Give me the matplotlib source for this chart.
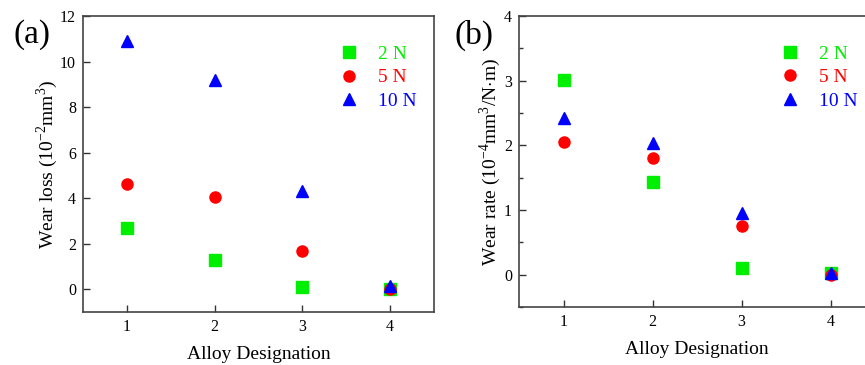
import numpy as np
import matplotlib.pyplot as plt
from matplotlib.ticker import MultipleLocator

plt.rcParams['font.family'] = ['Liberation Serif', 'DejaVu Serif']
plt.rcParams['mathtext.fontset'] = 'custom'
plt.rcParams['mathtext.rm'] = 'Liberation Serif'

alloys = [1, 2, 3, 4]
loads = ['2 N', '5 N', '10 N']
colors = ['#00ee00', '#ff0000', '#0000ff']
markers = ['s', 'o', '^']

# wear loss (10^-2 mm^3)
loss_2n = [2.7, 1.3, 0.09, 0.0]
loss_5n = [4.6, 4.07, 1.68, 0.0]
loss_10n = [10.9, 9.18, 4.3, 0.15]

# wear rate (10^-4 mm^3/N.m)
rate_2n = [3.01, 1.44, 0.10, 0.02]
rate_5n = [2.05, 1.80, 0.75, 0.0]
rate_10n = [2.43, 2.04, 0.96, 0.03]

fig = plt.figure(figsize=(8.65, 3.65), dpi=100)
W, H = 865, 365
ax_a = fig.add_axes([83 / W, 1 - 312 / H, 351 / W, 296 / H])
ax_b = fig.add_axes([519 / W, 1 - 307 / H, 356 / W, 291 / H])


def style(ax):
    for s in ax.spines.values():
        s.set_color('#444444')
        s.set_linewidth(1.2)
    ax.tick_params(direction='in', length=5, width=1, color='#333333',
                   labelsize=11.5, pad=5)
    ax.tick_params(which='minor', direction='in', length=3, width=1,
                   color='#333333')
    ax.set_xlim(0.5, 4.5)
    ax.set_xticks(alloys)
    ax.set_xlabel('Alloy Designation', fontsize=14, labelpad=8)


series_a = [loss_2n, loss_5n, loss_10n]
series_b = [rate_2n, rate_5n, rate_10n]

for ax, series in [(ax_a, series_a), (ax_b, series_b)]:
    for vals, lab, c, m in zip(series, loads, colors, markers):
        ax.plot(alloys, vals, linestyle='none', marker=m, color=c,
                markersize=8, label=lab)
    style(ax)
    ax.legend(loc='upper right', frameon=False, fontsize=14,
              labelcolor='linecolor', handlelength=1.0, handletextpad=1.0,
              labelspacing=0.3, bbox_to_anchor=(1.0, 0.96))

ax_a.set_ylim(-1, 12)
ax_a.set_yticks([0, 2, 4, 6, 8, 10, 12])
ax_a.set_ylabel(r'Wear loss (10$^{\mathrm{-2}}$mm$^{\mathrm{3}}$)',
                fontsize=14, labelpad=0)

ax_b.set_ylim(-0.5, 4)
ax_b.set_yticks([0, 1, 2, 3, 4])
ax_b.yaxis.set_minor_locator(MultipleLocator(0.5))
ax_b.set_ylabel(r'Wear rate (10$^{\mathrm{-4}}$mm$^{\mathrm{3}}$/N$\cdot$m)',
                fontsize=14, labelpad=1)

fig.text(14 / W, 1 - 35 / H, '(a)', fontsize=24, va='center')
fig.text(455 / W, 1 - 35 / H, '(b)', fontsize=24, va='center')

fig.savefig('out.png', dpi=100)
